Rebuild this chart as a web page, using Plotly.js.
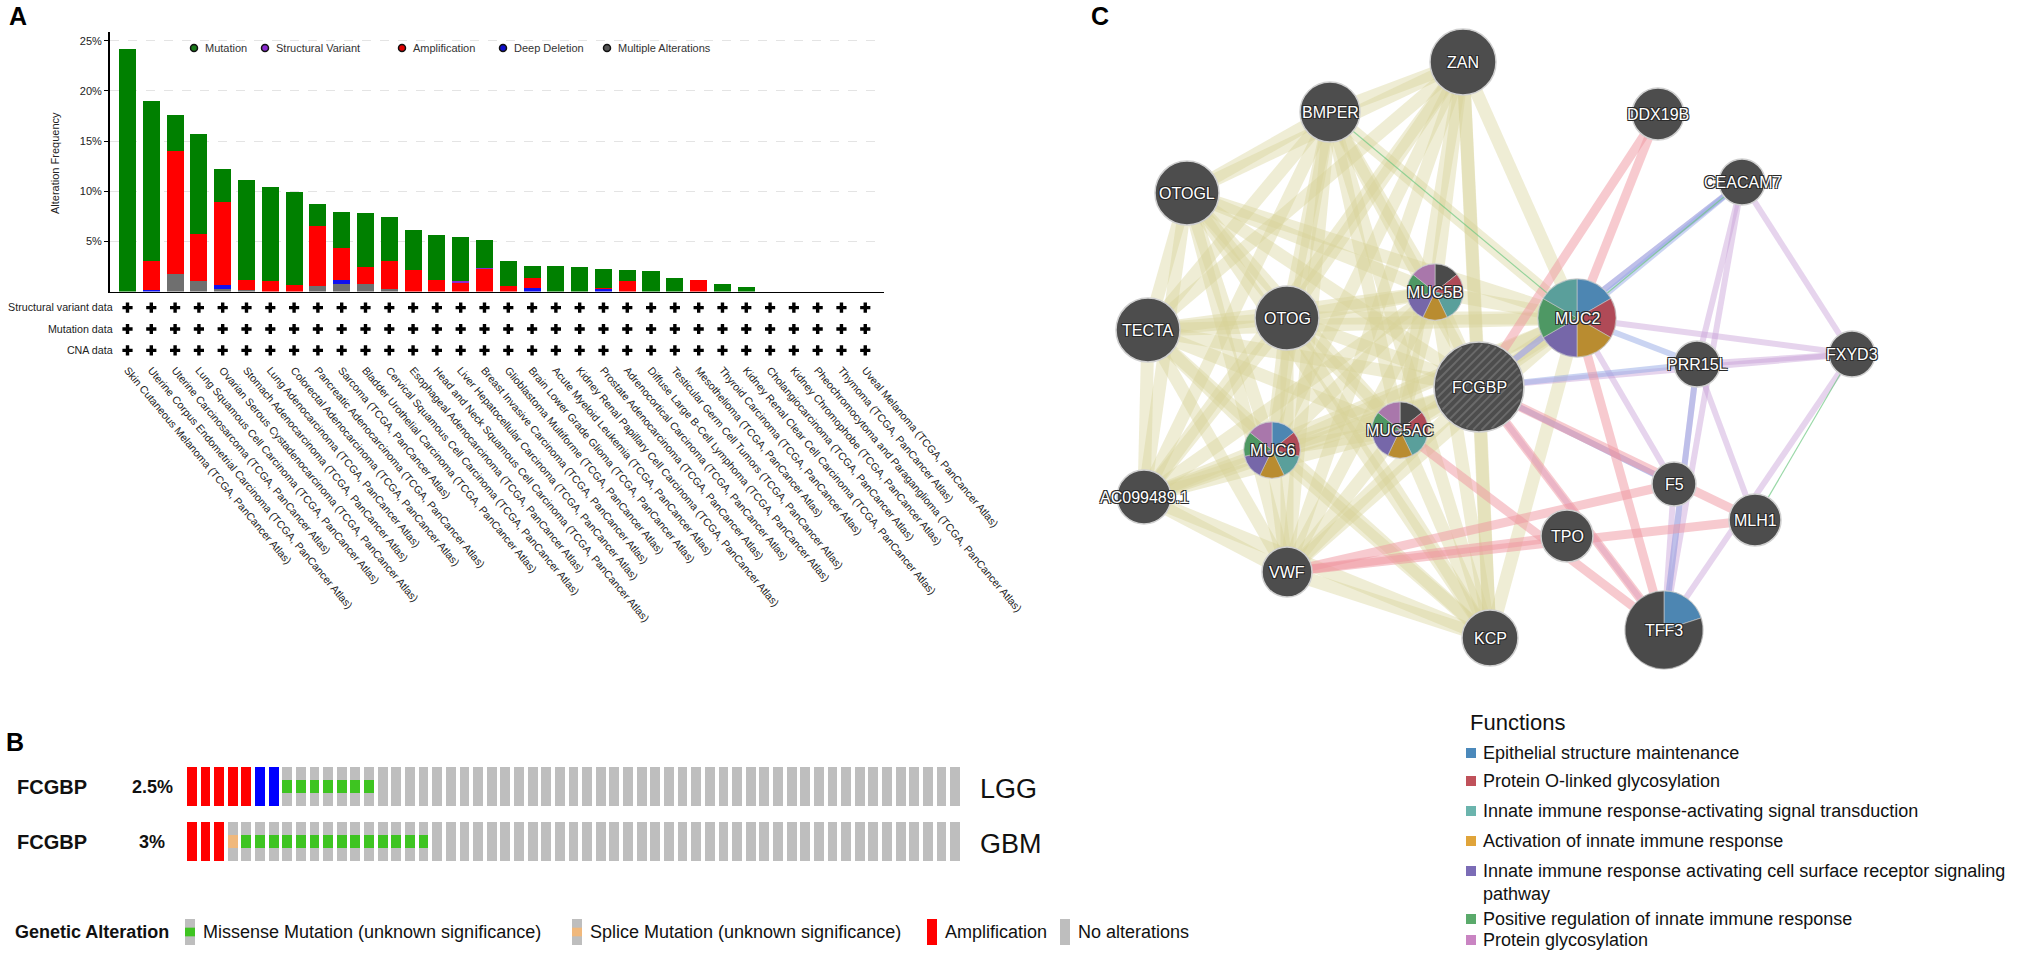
<!DOCTYPE html>
<html><head><meta charset="utf-8">
<script src="https://cdn.plot.ly/plotly-3.0.1.min.js"></script>
<style>html,body{margin:0;padding:0;background:#fff;}#chart{width:2042px;height:954px;}</style>
</head><body><div id="chart"></div>
<script>
// ---------------- Panel A data ----------------
const cancerTypes = [
 "Skin Cutaneous Melanoma (TCGA, PanCancer Atlas)",
 "Uterine Corpus Endometrial Carcinoma (TCGA, PanCancer Atlas)",
 "Uterine Carcinosarcoma (TCGA, PanCancer Atlas)",
 "Lung Squamous Cell Carcinoma (TCGA, PanCancer Atlas)",
 "Ovarian Serous Cystadenocarcinoma (TCGA, PanCancer Atlas)",
 "Stomach Adenocarcinoma (TCGA, PanCancer Atlas)",
 "Lung Adenocarcinoma (TCGA, PanCancer Atlas)",
 "Colorectal Adenocarcinoma (TCGA, PanCancer Atlas)",
 "Pancreatic Adenocarcinoma (TCGA, PanCancer Atlas)",
 "Sarcoma (TCGA, PanCancer Atlas)",
 "Bladder Urothelial Carcinoma (TCGA, PanCancer Atlas)",
 "Cervical Squamous Cell Carcinoma (TCGA, PanCancer Atlas)",
 "Esophageal Adenocarcinoma (TCGA, PanCancer Atlas)",
 "Head and Neck Squamous Cell Carcinoma (TCGA, PanCancer Atlas)",
 "Liver Hepatocellular Carcinoma (TCGA, PanCancer Atlas)",
 "Breast Invasive Carcinoma (TCGA, PanCancer Atlas)",
 "Glioblastoma Multiforme (TCGA, PanCancer Atlas)",
 "Brain Lower Grade Glioma (TCGA, PanCancer Atlas)",
 "Acute Myeloid Leukemia (TCGA, PanCancer Atlas)",
 "Kidney Renal Papillary Cell Carcinoma (TCGA, PanCancer Atlas)",
 "Prostate Adenocarcinoma (TCGA, PanCancer Atlas)",
 "Adrenocortical Carcinoma (TCGA, PanCancer Atlas)",
 "Diffuse Large B-Cell Lymphoma (TCGA, PanCancer Atlas)",
 "Testicular Germ Cell Tumors (TCGA, PanCancer Atlas)",
 "Mesothelioma (TCGA, PanCancer Atlas)",
 "Thyroid Carcinoma (TCGA, PanCancer Atlas)",
 "Kidney Renal Clear Cell Carcinoma (TCGA, PanCancer Atlas)",
 "Cholangiocarcinoma (TCGA, PanCancer Atlas)",
 "Kidney Chromophobe (TCGA, PanCancer Atlas)",
 "Pheochromocytoma and Paraganglioma (TCGA, PanCancer Atlas)",
 "Thymoma (TCGA, PanCancer Atlas)",
 "Uveal Melanoma (TCGA, PanCancer Atlas)"
];
const multiPct = [0,0,1.75,1.0,0.27,0.15,0,0,0.5,0.77,0.7,0.27,0,0,0,0,0,0,0,0,0,0,0,0,0,0,0,0,0,0,0,0];
const delPct   = [0,0.15,0,0,0.4,0,0,0,0,0.4,0,0,0,0,0,0,0,0.35,0,0,0.23,0,0,0,0,0,0,0,0,0,0,0];
const ampPct   = [0,2.85,12.25,4.77,8.23,0.95,1.07,0.67,6.0,3.16,1.7,2.8,2.17,1.1,0.83,2.2,0.5,0.95,0,0,0.15,1.07,0,0,1.1,0,0,0,0,0,0,0];
const svPct    = [0,0,0,0,0,0,0,0,0,0,0,0,0,0,0.23,0.1,0,0,0,0,0,0,0,0,0,0,0,0,0,0,0,0];
const mutPct   = [24.2,16.0,3.6,9.93,3.3,10.0,9.33,9.23,2.2,3.57,5.4,4.33,3.93,4.5,4.34,2.8,2.5,1.25,2.5,2.45,1.82,1.08,2.05,1.33,0,0.77,0.4,0,0,0,0,0];
const yTickVals = [5,10,15,20,25];
const yTickText = ["5%","10%","15%","20%","25%"];
const dataRows = ["CNA data","Mutation data","Structural variant data"];
const svAvail  = [1,1,1,1,1,1,1,1,1,1,1,1,1,1,1,1,1,1,1,1,1,1,1,1,1,1,1,1,1,1,1,1];
const mutAvail = [1,1,1,1,1,1,1,1,1,1,1,1,1,1,1,1,1,1,1,1,1,1,1,1,1,1,1,1,1,1,1,1];
const cnaAvail = [1,1,1,1,1,1,1,1,1,1,1,1,1,1,1,1,1,1,1,1,1,1,1,1,1,1,1,1,1,1,1,1];
const altLegend = ["Mutation","Structural Variant","Amplification","Deep Deletion","Multiple Alterations"];

// ---------------- Panel B data (run-length encoded samples) ----------------
const oncoTypes = ["LGG","GBM"];
const oncoPct = ["2.5%","3%"];
const lggCNARuns = [["AMP",5],["DEL",2],["NONE",50]];
const lggMutRuns = [["NONE",7],["MIS",7],["NONE",43]];
const gbmCNARuns = [["AMP",3],["NONE",54]];
const gbmMutRuns = [["NONE",3],["SPL",1],["MIS",14],["NONE",39]];
const oncoLegend = ["Missense Mutation (unknown significance)","Splice Mutation (unknown significance)","Amplification","No alterations"];

// ---------------- Panel C data ----------------
const nodeNames = ["ZAN","BMPER","DDX19B","OTOGL","CEACAM7","TECTA","OTOG","MUC5B","MUC2","FCGBP","PRR15L","FXYD3","MUC6","MUC5AC","AC099489.1","F5","MLH1","TPO","VWF","KCP","TFF3"];
const nodeX = [1463,1330,1658,1187,1742,1148,1287,1435,1577,1479,1697,1852,1272,1400,1144,1674,1755,1567,1287,1490,1664];
const nodeY = [62,112,114,193,182,330,318,292,318,387,364,354,450,430,497,484,520,536,572,638,630];
const nodeR = [33,30,26,32,23,32,32,28,39,45,23,23,28,28,27,22,26,26,25,28,39];
const sharedDomainEdges = {
 "ZAN":["BMPER","OTOGL","TECTA","OTOG","MUC5B","MUC2","FCGBP","MUC6","MUC5AC","AC099489.1","VWF","KCP"],
 "BMPER":["OTOGL","TECTA","OTOG","MUC5B","MUC2","FCGBP","MUC6","MUC5AC","AC099489.1","VWF","KCP"],
 "OTOGL":["TECTA","OTOG","MUC5B","MUC2","FCGBP","MUC6","MUC5AC","AC099489.1","VWF","KCP"],
 "TECTA":["OTOG","MUC5B","MUC2","FCGBP","MUC6","MUC5AC","AC099489.1","VWF","KCP"],
 "OTOG":["MUC5B","MUC2","FCGBP","MUC6","MUC5AC","AC099489.1","VWF","KCP"],
 "MUC5B":["MUC2","FCGBP","MUC6","MUC5AC","AC099489.1","VWF","KCP"],
 "MUC2":["FCGBP","MUC6","MUC5AC","AC099489.1","VWF","KCP"],
 "FCGBP":["MUC6","MUC5AC","AC099489.1","VWF","KCP"],
 "MUC6":["MUC5AC","AC099489.1","VWF","KCP"],
 "MUC5AC":["AC099489.1","VWF","KCP"],
 "AC099489.1":["VWF","KCP"],
 "VWF":["KCP"]
};
const physicalEdges = {"DDX19B":["FCGBP","MUC2"],"VWF":["F5","MLH1","TPO"],"FCGBP":["MLH1","TFF3"],"MUC2":["TFF3"],"MUC5AC":["TFF3"]};
const colocEdges = {"CEACAM7":["MUC2","FCGBP"],"PRR15L":["FCGBP","TFF3","MUC2"],"FCGBP":["F5"]};
const coexpEdges = {"CEACAM7":["PRR15L","FXYD3","TFF3","FCGBP"],"PRR15L":["FXYD3","MLH1"],"MUC2":["FXYD3","F5"],"FCGBP":["FXYD3","TFF3","F5"],"TFF3":["PRR15L","F5","FXYD3"]};
const geneticEdges = {"BMPER":["MUC2"],"CEACAM7":["MUC2"],"FXYD3":["MLH1"]};
const funcNames = ["Epithelial structure maintenance","Protein O-linked glycosylation","Innate immune response-activating signal transduction","Activation of innate immune response","Innate immune response activating cell surface receptor signaling<br>pathway","Positive regulation of innate immune response","Protein glycosylation"];
const funcColors = ["#4b89bb","#c0515a","#6bb4ad","#e0a43a","#7b6cb6","#5aaa6b","#c984c2"];
const pieNodes = {
 "MUC6":   ["Epithelial","OLinked","Signal","Activation","CellSurface","Positive","Glyco"],
 "MUC5AC": ["none","OLinked","Signal","Activation","CellSurface","Positive","Glyco"],
 "MUC5B":  ["none","OLinked","Signal","Activation","CellSurface","Positive","Glyco"],
 "MUC2":   ["Epithelial","OLinked","Activation","CellSurface","Positive","Signal"],
 "TFF3":   ["Epithelial","none"]
};
const pieShares = {"MUC6":[1,1,1,1,1,1,1],"MUC5AC":[1,1,1,1,1,1,1],"MUC5B":[1,1,1,1,1,1,1],"MUC2":[1,1,1,1,1,1],"TFF3":[1,4]};
const pieColorKey = {"Epithelial":"#4d86b2","OLinked":"#b04a57","Signal":"#5a9f9b","Activation":"#b98c30","CellSurface":"#7667a9","Positive":"#4e9864","Glyco":"#a977ab","none":"#4a4a4a"};

// ---------------- helpers ----------------
const W = 2042, H = 954;
const FONT = "Liberation Sans, Arial, Helvetica, sans-serif";
const px = x => x / W, py = y => 1 - y / H;
const expand = runs => { const out = []; runs.forEach(([c,n]) => { for (let i=0;i<n;i++) out.push(c); }); return out; };

const traces = [];
const annotations = [];
const shapes = [];

// ---------------- Panel A ----------------
const barSpecs = [
 [multiPct,"#6f6f6f"],[delPct,"#1010ee"],[ampPct,"#ff0000"],[svPct,"#8a2bd0"],[mutPct,"#008000"]
];
barSpecs.forEach(([vals,col]) => traces.push({
  type:"bar", x:cancerTypes, y:vals, xaxis:"x", yaxis:"y",
  marker:{color:col, line:{width:0}}, hoverinfo:"skip"
}));
[[svAvail,"Structural variant data"],[mutAvail,"Mutation data"],[cnaAvail,"CNA data"]].forEach(([av,row]) => {
  const xs = cancerTypes.filter((c,i)=>av[i]===1);
  traces.push({type:"scatter", mode:"markers", x:xs, y:xs.map(()=>row), xaxis:"x2", yaxis:"y2",
    marker:{symbol:"cross", size:8.5, color:"#000", line:{width:0}}, hoverinfo:"skip"});
});
// legend A
const legX = [194,265,402,503,607];
const legCol = ["#1a7a1a","#8a2bd0","#e00000","#1010cc","#555555"];
traces.push({type:"scatter", mode:"markers", x:legX, y:legX.map(()=>48), xaxis:"x3", yaxis:"y3",
  marker:{size:7, opacity:1, color:legCol, line:{color:"#111", width:1.5}}, hoverinfo:"skip"});
altLegend.forEach((t,i)=>annotations.push({xref:"x3",yref:"y3",x:legX[i]+9,y:48,text:t,showarrow:false,xanchor:"left",yanchor:"middle",font:{family:FONT,size:11,color:"#333"}}));
annotations.push({xref:"x3",yref:"y3",x:55,y:163,text:"Alteration Frequency",textangle:-90,showarrow:false,font:{family:FONT,size:11,color:"#222"}});

// ---------------- Panel B ----------------
const oncoCNA = [expand(lggCNARuns), expand(gbmCNARuns)];
const oncoMut = [expand(lggMutRuns), expand(gbmMutRuns)];
const nSamples = oncoCNA[0].length;
const sampleIds = oncoCNA[0].map((c,i)=>"s"+i);
const cnaColor = {"AMP":"#ff0000","DEL":"#0000ff","NONE":"#bebebe"};
const mutColor = {"MIS":"#3ec421","SPL":"#f0b87c"};
["4","5"].forEach((ax,r) => {
  const cna = oncoCNA[r], mut = oncoMut[r];
  const cols = cna.map(c=>cnaColor[c]);
  const midCols = cna.map((c,i)=> mut[i]!=="NONE" ? mutColor[mut[i]] : cnaColor[c]);
  [[cols,1/3],[midCols,1/3],[cols,1/3]].forEach(([cc,h]) => traces.push({
    type:"bar", x:sampleIds, y:sampleIds.map(()=>h), xaxis:"x"+ax, yaxis:"y"+ax,
    marker:{color:cc, line:{width:0}}, hoverinfo:"skip"
  }));
});

// ---------------- Panel C ----------------
const idx = {}; nodeNames.forEach((n,i)=>idx[n]=i);
function addEdges(edges, color, width){
  Object.keys(edges).forEach(a => edges[a].forEach(b => {
    const i=idx[a], j=idx[b];
    traces.push({type:"scatter", mode:"lines", x:[nodeX[i],nodeX[j]], y:[nodeY[i],nodeY[j]], xaxis:"x3", yaxis:"y3",
      line:{color:color, width:width}, hoverinfo:"skip"});
  }));
}
addEdges(sharedDomainEdges, "rgba(214,211,150,0.40)", 13);
addEdges(coexpEdges, "rgba(200,160,215,0.45)", 6);
addEdges(colocEdges, "rgba(150,170,230,0.5)", 6);
addEdges(physicalEdges, "rgba(240,150,160,0.5)", 9);
addEdges(geneticEdges, "rgba(110,200,130,0.7)", 1.2);
traces.push({type:"scatter", mode:"markers", x:nodeX, y:nodeY, xaxis:"x3", yaxis:"y3",
  marker:{size:nodeR.map(r=>2*r), sizemode:"diameter", opacity:1, color:"#4d4d4d", line:{color:"#d0d0d0", width:1.5}}, hoverinfo:"skip"});
// FCGBP hatch (query gene)
{
  const i = idx["FCGBP"], cx=nodeX[i], cy=nodeY[i], r=nodeR[i]-2;
  const hx=[], hy=[];
  for (let d=-r+3; d<r; d+=6) {
    const h = Math.sqrt(r*r - d*d);
    const ox = cx + d/Math.SQRT2, oy = cy + d/Math.SQRT2;
    hx.push(ox - h/Math.SQRT2, ox + h/Math.SQRT2, null);
    hy.push(oy + h/Math.SQRT2, oy - h/Math.SQRT2, null);
  }
  traces.push({type:"scatter", mode:"lines", x:hx, y:hy, xaxis:"x3", yaxis:"y3", line:{color:"#6a6a6a", width:2}, hoverinfo:"skip"});
}
Object.keys(pieNodes).forEach(n => {
  const i = idx[n], r = nodeR[i];
  traces.push({type:"pie", labels:pieNodes[n], values:pieShares[n], sort:false, direction:"clockwise", rotation:0,
    marker:{colors:pieNodes[n].map(k=>pieColorKey[k]), line:{color:"#cfcfcf", width:0.6}},
    textinfo:"none", hoverinfo:"skip", showlegend:false,
    domain:{x:[px(nodeX[i]-r), px(nodeX[i]+r)], y:[py(nodeY[i]+r), py(nodeY[i]-r)]}});
});
const shadow = "-1px -1px 0 #2a2a2a, 1px -1px 0 #2a2a2a, -1px 1px 0 #2a2a2a, 1px 1px 0 #2a2a2a";
nodeNames.forEach((n,i)=>annotations.push({xref:"x3",yref:"y3",x:nodeX[i],y:nodeY[i],text:n,showarrow:false,
  font:{family:FONT,size:16,color:"#fff",shadow:shadow}}));
// functions legend
annotations.push({xref:"x3",yref:"y3",x:1468,y:722,text:"Functions",showarrow:false,xanchor:"left",font:{family:FONT,size:22,color:"#111"}});
const funcY = [753,781,811,841,882,919,940];
funcNames.forEach((f,i)=>{
  annotations.push({xref:"x3",yref:"y3",x:1481,y:funcY[i],text:f,showarrow:false,xanchor:"left",align:"left",font:{family:FONT,size:18,color:"#111"}});
});
traces.push({type:"scatter", mode:"markers", x:funcY.map(()=>1471), y:funcY.map((y,i)=> i===4 ? 871 : y), xaxis:"x3", yaxis:"y3",
  marker:{symbol:"square", size:10, opacity:1, color:funcColors, line:{width:0}}, hoverinfo:"skip"});

// ---------------- Panel B text & legend ----------------
const rowY = [787,842];
oncoTypes.forEach((t,r)=>{
  annotations.push({xref:"x3",yref:"y3",x:15,y:rowY[r],text:"<b>FCGBP</b>",showarrow:false,xanchor:"left",font:{family:FONT,size:20,color:"#111"}});
  annotations.push({xref:"x3",yref:"y3",x:152,y:rowY[r],text:"<b>"+oncoPct[r]+"</b>",showarrow:false,xanchor:"center",font:{family:FONT,size:18,color:"#111"}});
  annotations.push({xref:"x3",yref:"y3",x:978,y:rowY[r]+2,text:t,showarrow:false,xanchor:"left",font:{family:FONT,size:27,color:"#111"}});
});
annotations.push({xref:"x3",yref:"y3",x:13,y:932,text:"<b>Genetic Alteration</b>",showarrow:false,xanchor:"left",font:{family:FONT,size:18,color:"#111"}});
const olX = [185,572,927,1060];
const olFill = [["#bebebe","#3ec421"],["#bebebe","#f0b87c"],["#ff0000","#ff0000"],["#bebebe","#bebebe"]];
oncoLegend.forEach((t,i)=>{
  const x0=olX[i], y0=919, y1=945;
  shapes.push({type:"rect",xref:"x3",yref:"y3",x0:x0,x1:x0+10,y0:y0,y1:y1,fillcolor:olFill[i][0],line:{width:0}});
  shapes.push({type:"rect",xref:"x3",yref:"y3",x0:x0,x1:x0+10,y0:y0+(y1-y0)/3,y1:y0+2*(y1-y0)/3,fillcolor:olFill[i][1],line:{width:0}});
  annotations.push({xref:"x3",yref:"y3",x:x0+16,y:932,text:t,showarrow:false,xanchor:"left",font:{family:FONT,size:18,color:"#111"}});
});

// panel letters
[["A",18,16],["B",15,742],["C",1100,16]].forEach(([t,x,y])=>annotations.push({xref:"x3",yref:"y3",x:x,y:y,text:"<b>"+t+"</b>",showarrow:false,font:{family:FONT,size:25,color:"#000"}}));

// ---------------- Layout ----------------
const xDomA = [px(109.65), px(884.3)];
const hidden = {visible:false, showgrid:false, zeroline:false, fixedrange:true};
const layout = {
  width:W, height:H, margin:{l:0,r:0,t:0,b:0}, paper_bgcolor:"#fff", plot_bgcolor:"rgba(0,0,0,0)",
  showlegend:false, barmode:"stack", bargap:0.28,
  xaxis:{domain:xDomA, anchor:"y", type:"category", categoryarray:cancerTypes, range:[-0.75,31.8], showticklabels:false, ticks:"",
    showline:true, linecolor:"#000", linewidth:1.6, showgrid:false, zeroline:false},
  yaxis:{domain:[py(291.5), py(32)], anchor:"x", range:[0,25.87], tickmode:"array", tickvals:yTickVals, ticktext:yTickText,
    ticks:"outside", ticklen:4, tickcolor:"#000", showline:true, linecolor:"#000", linewidth:1.6,
    showgrid:true, gridcolor:"#e4e4e4", griddash:"dash", gridwidth:1, zeroline:false,
    tickfont:{family:FONT,size:11,color:"#222"}},
  xaxis2:{domain:xDomA, anchor:"y2", matches:"x", type:"category", tickmode:"array", tickvals:cancerTypes, ticktext:cancerTypes,
    tickangle:50, ticks:"", showline:false, showgrid:false, zeroline:false, tickfont:{family:FONT,size:10.7,color:"#222"}},
  yaxis2:{domain:[py(361), py(297)], anchor:"x2", type:"category", categoryarray:dataRows, range:[-0.5,2.5],
    showgrid:false, zeroline:false, ticks:"", ticklabelstandoff:-4, tickfont:{family:FONT,size:10.7,color:"#222"}},
  xaxis3:Object.assign({domain:[0,1], anchor:"y3", range:[0,W]}, hidden),
  yaxis3:Object.assign({domain:[0,1], anchor:"x3", range:[H,0]}, hidden),
  xaxis4:Object.assign({domain:[px(185), px(962)], anchor:"y4", type:"category", range:[-0.5, nSamples-0.5]}, hidden),
  yaxis4:Object.assign({domain:[py(806), py(767)], anchor:"x4", range:[0,1]}, hidden),
  xaxis5:Object.assign({domain:[px(185), px(962)], anchor:"y5", type:"category", range:[-0.5, nSamples-0.5]}, hidden),
  yaxis5:Object.assign({domain:[py(861), py(822)], anchor:"x5", range:[0,1]}, hidden),
  annotations:annotations, shapes:shapes
};
Plotly.newPlot("chart", traces, layout, {staticPlot:true, displayModeBar:false});
</script></body></html>
